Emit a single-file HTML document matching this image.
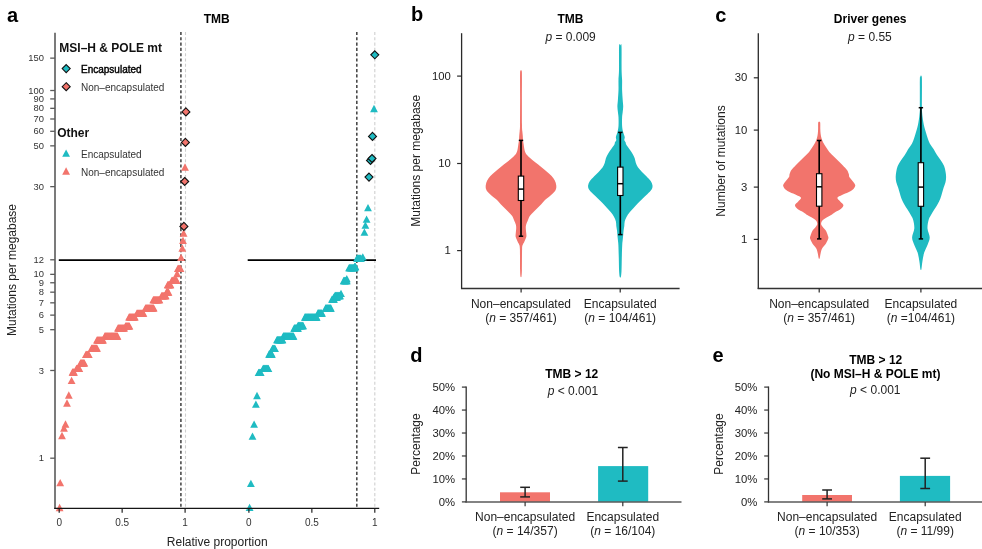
<!DOCTYPE html>
<html><head><meta charset="utf-8"><title>Figure</title>
<style>html,body{margin:0;padding:0;background:#fff;overflow:hidden}svg{display:block;will-change:transform}text{font-family:'Liberation Sans', Arial, Helvetica, sans-serif}</style>
</head><body>
<svg width="982" height="549" viewBox="0 0 982 549">
<rect width="982" height="549" fill="#fff"/>
<text x="7.00" y="21.50" font-size="20" text-anchor="start" font-weight="bold" fill="#000" >a</text>
<text x="411.00" y="21.10" font-size="20" text-anchor="start" font-weight="bold" fill="#000" >b</text>
<text x="715.30" y="21.60" font-size="20" text-anchor="start" font-weight="bold" fill="#000" >c</text>
<text x="410.30" y="361.50" font-size="20" text-anchor="start" font-weight="bold" fill="#000" >d</text>
<text x="712.50" y="361.50" font-size="20" text-anchor="start" font-weight="bold" fill="#000" >e</text>
<text x="216.70" y="22.80" font-size="12" text-anchor="middle" font-weight="bold" fill="#000" >TMB</text>
<line x1="180.90" y1="31.95" x2="180.90" y2="508.00" stroke="#4a4a4a" stroke-width="1.6" stroke-dasharray="3.1 2.2"/>
<line x1="185.50" y1="31.95" x2="185.50" y2="508.00" stroke="#cfcfcf" stroke-width="1.1" stroke-dasharray="3.1 2.2"/>
<line x1="356.80" y1="31.95" x2="356.80" y2="508.00" stroke="#4a4a4a" stroke-width="1.6" stroke-dasharray="3.1 2.2"/>
<line x1="374.80" y1="31.95" x2="374.80" y2="508.00" stroke="#cfcfcf" stroke-width="1.1" stroke-dasharray="3.1 2.2"/>
<line x1="58.80" y1="260.10" x2="185.40" y2="260.10" stroke="#000" stroke-width="1.7" />
<line x1="247.70" y1="260.10" x2="376.00" y2="260.10" stroke="#000" stroke-width="1.7" />
<line x1="55.00" y1="32.80" x2="55.00" y2="508.80" stroke="#5a5a5a" stroke-width="1.6" />
<line x1="50.20" y1="58.14" x2="55.00" y2="58.14" stroke="#5a5a5a" stroke-width="1.3" />
<text x="43.90" y="61.24" font-size="9.4" text-anchor="end" font-weight="normal" fill="#333" >150</text>
<line x1="50.20" y1="90.51" x2="55.00" y2="90.51" stroke="#5a5a5a" stroke-width="1.3" />
<text x="43.90" y="93.61" font-size="9.4" text-anchor="end" font-weight="normal" fill="#333" >100</text>
<line x1="50.20" y1="98.92" x2="55.00" y2="98.92" stroke="#5a5a5a" stroke-width="1.3" />
<text x="43.90" y="102.02" font-size="9.4" text-anchor="end" font-weight="normal" fill="#333" >90</text>
<line x1="50.20" y1="108.33" x2="55.00" y2="108.33" stroke="#5a5a5a" stroke-width="1.3" />
<text x="43.90" y="111.43" font-size="9.4" text-anchor="end" font-weight="normal" fill="#333" >80</text>
<line x1="50.20" y1="118.99" x2="55.00" y2="118.99" stroke="#5a5a5a" stroke-width="1.3" />
<text x="43.90" y="122.09" font-size="9.4" text-anchor="end" font-weight="normal" fill="#333" >70</text>
<line x1="50.20" y1="131.29" x2="55.00" y2="131.29" stroke="#5a5a5a" stroke-width="1.3" />
<text x="43.90" y="134.39" font-size="9.4" text-anchor="end" font-weight="normal" fill="#333" >60</text>
<line x1="50.20" y1="145.85" x2="55.00" y2="145.85" stroke="#5a5a5a" stroke-width="1.3" />
<text x="43.90" y="148.95" font-size="9.4" text-anchor="end" font-weight="normal" fill="#333" >50</text>
<line x1="50.20" y1="186.64" x2="55.00" y2="186.64" stroke="#5a5a5a" stroke-width="1.3" />
<text x="43.90" y="189.74" font-size="9.4" text-anchor="end" font-weight="normal" fill="#333" >30</text>
<line x1="50.20" y1="259.79" x2="55.00" y2="259.79" stroke="#5a5a5a" stroke-width="1.3" />
<text x="43.90" y="262.89" font-size="9.4" text-anchor="end" font-weight="normal" fill="#333" >12</text>
<line x1="50.20" y1="274.35" x2="55.00" y2="274.35" stroke="#5a5a5a" stroke-width="1.3" />
<text x="43.90" y="277.45" font-size="9.4" text-anchor="end" font-weight="normal" fill="#333" >10</text>
<line x1="50.20" y1="282.76" x2="55.00" y2="282.76" stroke="#5a5a5a" stroke-width="1.3" />
<text x="43.90" y="285.86" font-size="9.4" text-anchor="end" font-weight="normal" fill="#333" >9</text>
<line x1="50.20" y1="292.17" x2="55.00" y2="292.17" stroke="#5a5a5a" stroke-width="1.3" />
<text x="43.90" y="295.27" font-size="9.4" text-anchor="end" font-weight="normal" fill="#333" >8</text>
<line x1="50.20" y1="302.83" x2="55.00" y2="302.83" stroke="#5a5a5a" stroke-width="1.3" />
<text x="43.90" y="305.93" font-size="9.4" text-anchor="end" font-weight="normal" fill="#333" >7</text>
<line x1="50.20" y1="315.13" x2="55.00" y2="315.13" stroke="#5a5a5a" stroke-width="1.3" />
<text x="43.90" y="318.23" font-size="9.4" text-anchor="end" font-weight="normal" fill="#333" >6</text>
<line x1="50.20" y1="329.69" x2="55.00" y2="329.69" stroke="#5a5a5a" stroke-width="1.3" />
<text x="43.90" y="332.79" font-size="9.4" text-anchor="end" font-weight="normal" fill="#333" >5</text>
<line x1="50.20" y1="370.48" x2="55.00" y2="370.48" stroke="#5a5a5a" stroke-width="1.3" />
<text x="43.90" y="373.58" font-size="9.4" text-anchor="end" font-weight="normal" fill="#333" >3</text>
<line x1="50.20" y1="458.19" x2="55.00" y2="458.19" stroke="#5a5a5a" stroke-width="1.3" />
<text x="43.90" y="461.29" font-size="9.4" text-anchor="end" font-weight="normal" fill="#333" >1</text>
<text x="59.20" y="526.40" font-size="10" text-anchor="middle" font-weight="normal" fill="#333" >0</text>
<text x="122.15" y="526.40" font-size="10" text-anchor="middle" font-weight="normal" fill="#333" >0.5</text>
<text x="185.10" y="526.40" font-size="10" text-anchor="middle" font-weight="normal" fill="#333" >1</text>
<text x="248.90" y="526.40" font-size="10" text-anchor="middle" font-weight="normal" fill="#333" >0</text>
<text x="311.85" y="526.40" font-size="10" text-anchor="middle" font-weight="normal" fill="#333" >0.5</text>
<text x="374.80" y="526.40" font-size="10" text-anchor="middle" font-weight="normal" fill="#333" >1</text>
<text x="217.20" y="545.50" font-size="12" text-anchor="middle" font-weight="normal" fill="#222" >Relative proportion</text>
<text transform="translate(16.20,270.00) rotate(-90)" x="0" y="0" font-size="12" text-anchor="middle" fill="#222">Mutations per megabase</text>
<text x="59.30" y="51.50" font-size="12" text-anchor="start" font-weight="bold" fill="#111" >MSI–H &amp; POLE mt</text>
<path d="M66.20 64.60L70.20 68.60L66.20 72.60L62.20 68.60Z" fill="#1FBBC2" stroke="#111" stroke-width="1.1"/>
<text x="81.00" y="72.80" font-size="10" text-anchor="start" font-weight="normal" fill="#000" stroke="#000" stroke-width="0.4">Encapsulated</text>
<path d="M66.20 82.70L70.20 86.70L66.20 90.70L62.20 86.70Z" fill="#F2746C" stroke="#111" stroke-width="1.1"/>
<text x="81.00" y="91.10" font-size="10" text-anchor="start" font-weight="normal" fill="#333" >Non–encapsulated</text>
<text x="57.20" y="136.70" font-size="12" text-anchor="start" font-weight="bold" fill="#111" >Other</text>
<path d="M66.10 149.55L70.00 156.85L62.20 156.85Z" fill="#1FBBC2"/>
<text x="81.00" y="157.80" font-size="10" text-anchor="start" font-weight="normal" fill="#333" >Encapsulated</text>
<path d="M66.10 167.35L70.00 174.65L62.20 174.65Z" fill="#F2746C"/>
<text x="81.00" y="176.10" font-size="10" text-anchor="start" font-weight="normal" fill="#333" >Non–encapsulated</text>
<path d="M59.60 503.85L63.50 511.15L55.70 511.15Z" fill="#F2746C"/>
<path d="M60.20 478.95L64.10 486.25L56.30 486.25Z" fill="#F2746C"/>
<path d="M62.00 431.85L65.90 439.15L58.10 439.15Z" fill="#F2746C"/>
<path d="M64.00 424.35L67.90 431.65L60.10 431.65Z" fill="#F2746C"/>
<path d="M65.50 420.35L69.40 427.65L61.60 427.65Z" fill="#F2746C"/>
<path d="M67.00 399.35L70.90 406.65L63.10 406.65Z" fill="#F2746C"/>
<path d="M68.80 391.35L72.70 398.65L64.90 398.65Z" fill="#F2746C"/>
<path d="M71.60 376.75L75.50 384.05L67.70 384.05Z" fill="#F2746C"/>
<path d="M72.50 368.35L76.40 375.65L68.60 375.65Z" fill="#F2746C"/>
<path d="M73.00 368.35L76.90 375.65L69.10 375.65Z" fill="#F2746C"/>
<path d="M73.50 368.35L77.40 375.65L69.60 375.65Z" fill="#F2746C"/>
<path d="M74.00 368.35L77.90 375.65L70.10 375.65Z" fill="#F2746C"/>
<path d="M76.50 364.65L80.40 371.95L72.60 371.95Z" fill="#F2746C"/>
<path d="M76.97 364.65L80.87 371.95L73.07 371.95Z" fill="#F2746C"/>
<path d="M77.43 364.65L81.33 371.95L73.53 371.95Z" fill="#F2746C"/>
<path d="M77.90 364.65L81.80 371.95L74.00 371.95Z" fill="#F2746C"/>
<path d="M78.37 364.65L82.27 371.95L74.47 371.95Z" fill="#F2746C"/>
<path d="M78.83 364.65L82.73 371.95L74.93 371.95Z" fill="#F2746C"/>
<path d="M79.30 364.65L83.20 371.95L75.40 371.95Z" fill="#F2746C"/>
<path d="M80.50 359.15L84.40 366.45L76.60 366.45Z" fill="#F2746C"/>
<path d="M80.97 359.15L84.88 366.45L77.07 366.45Z" fill="#F2746C"/>
<path d="M81.45 359.15L85.35 366.45L77.55 366.45Z" fill="#F2746C"/>
<path d="M81.92 359.15L85.83 366.45L78.02 366.45Z" fill="#F2746C"/>
<path d="M82.40 359.15L86.30 366.45L78.50 366.45Z" fill="#F2746C"/>
<path d="M82.88 359.15L86.78 366.45L78.97 366.45Z" fill="#F2746C"/>
<path d="M83.35 359.15L87.25 366.45L79.45 366.45Z" fill="#F2746C"/>
<path d="M83.83 359.15L87.73 366.45L79.92 366.45Z" fill="#F2746C"/>
<path d="M84.30 359.15L88.20 366.45L80.40 366.45Z" fill="#F2746C"/>
<path d="M85.90 350.75L89.80 358.05L82.00 358.05Z" fill="#F2746C"/>
<path d="M86.38 350.75L90.28 358.05L82.48 358.05Z" fill="#F2746C"/>
<path d="M86.87 350.75L90.77 358.05L82.97 358.05Z" fill="#F2746C"/>
<path d="M87.35 350.75L91.25 358.05L83.45 358.05Z" fill="#F2746C"/>
<path d="M87.83 350.75L91.73 358.05L83.93 358.05Z" fill="#F2746C"/>
<path d="M88.32 350.75L92.22 358.05L84.42 358.05Z" fill="#F2746C"/>
<path d="M88.80 350.75L92.70 358.05L84.90 358.05Z" fill="#F2746C"/>
<path d="M91.60 344.55L95.50 351.85L87.70 351.85Z" fill="#F2746C"/>
<path d="M92.09 344.55L95.99 351.85L88.19 351.85Z" fill="#F2746C"/>
<path d="M92.58 344.55L96.48 351.85L88.68 351.85Z" fill="#F2746C"/>
<path d="M93.07 344.55L96.97 351.85L89.17 351.85Z" fill="#F2746C"/>
<path d="M93.56 344.55L97.46 351.85L89.66 351.85Z" fill="#F2746C"/>
<path d="M94.05 344.55L97.95 351.85L90.15 351.85Z" fill="#F2746C"/>
<path d="M94.55 344.55L98.45 351.85L90.65 351.85Z" fill="#F2746C"/>
<path d="M95.04 344.55L98.94 351.85L91.14 351.85Z" fill="#F2746C"/>
<path d="M95.53 344.55L99.43 351.85L91.63 351.85Z" fill="#F2746C"/>
<path d="M96.02 344.55L99.92 351.85L92.12 351.85Z" fill="#F2746C"/>
<path d="M96.51 344.55L100.41 351.85L92.61 351.85Z" fill="#F2746C"/>
<path d="M97.00 344.55L100.90 351.85L93.10 351.85Z" fill="#F2746C"/>
<path d="M97.00 336.15L100.90 343.45L93.10 343.45Z" fill="#F2746C"/>
<path d="M97.50 336.15L101.40 343.45L93.60 343.45Z" fill="#F2746C"/>
<path d="M98.00 336.15L101.90 343.45L94.10 343.45Z" fill="#F2746C"/>
<path d="M98.50 336.15L102.40 343.45L94.60 343.45Z" fill="#F2746C"/>
<path d="M99.00 336.15L102.90 343.45L95.10 343.45Z" fill="#F2746C"/>
<path d="M99.50 336.15L103.40 343.45L95.60 343.45Z" fill="#F2746C"/>
<path d="M100.00 336.15L103.90 343.45L96.10 343.45Z" fill="#F2746C"/>
<path d="M100.50 336.15L104.40 343.45L96.60 343.45Z" fill="#F2746C"/>
<path d="M101.00 336.15L104.90 343.45L97.10 343.45Z" fill="#F2746C"/>
<path d="M101.50 336.15L105.40 343.45L97.60 343.45Z" fill="#F2746C"/>
<path d="M102.00 336.15L105.90 343.45L98.10 343.45Z" fill="#F2746C"/>
<path d="M102.50 336.15L106.40 343.45L98.60 343.45Z" fill="#F2746C"/>
<path d="M103.00 336.15L106.90 343.45L99.10 343.45Z" fill="#F2746C"/>
<path d="M104.80 332.35L108.70 339.65L100.90 339.65Z" fill="#F2746C"/>
<path d="M105.31 332.35L109.21 339.65L101.41 339.65Z" fill="#F2746C"/>
<path d="M105.82 332.35L109.72 339.65L101.92 339.65Z" fill="#F2746C"/>
<path d="M106.32 332.35L110.22 339.65L102.42 339.65Z" fill="#F2746C"/>
<path d="M106.83 332.35L110.73 339.65L102.93 339.65Z" fill="#F2746C"/>
<path d="M107.34 332.35L111.24 339.65L103.44 339.65Z" fill="#F2746C"/>
<path d="M107.85 332.35L111.75 339.65L103.95 339.65Z" fill="#F2746C"/>
<path d="M108.36 332.35L112.26 339.65L104.46 339.65Z" fill="#F2746C"/>
<path d="M108.86 332.35L112.76 339.65L104.96 339.65Z" fill="#F2746C"/>
<path d="M109.37 332.35L113.27 339.65L105.47 339.65Z" fill="#F2746C"/>
<path d="M109.88 332.35L113.78 339.65L105.98 339.65Z" fill="#F2746C"/>
<path d="M110.39 332.35L114.29 339.65L106.49 339.65Z" fill="#F2746C"/>
<path d="M110.90 332.35L114.80 339.65L107.00 339.65Z" fill="#F2746C"/>
<path d="M111.40 332.35L115.30 339.65L107.50 339.65Z" fill="#F2746C"/>
<path d="M111.91 332.35L115.81 339.65L108.01 339.65Z" fill="#F2746C"/>
<path d="M112.42 332.35L116.32 339.65L108.52 339.65Z" fill="#F2746C"/>
<path d="M112.93 332.35L116.83 339.65L109.03 339.65Z" fill="#F2746C"/>
<path d="M113.44 332.35L117.34 339.65L109.54 339.65Z" fill="#F2746C"/>
<path d="M113.94 332.35L117.84 339.65L110.04 339.65Z" fill="#F2746C"/>
<path d="M114.45 332.35L118.35 339.65L110.55 339.65Z" fill="#F2746C"/>
<path d="M114.96 332.35L118.86 339.65L111.06 339.65Z" fill="#F2746C"/>
<path d="M115.47 332.35L119.37 339.65L111.57 339.65Z" fill="#F2746C"/>
<path d="M115.98 332.35L119.88 339.65L112.08 339.65Z" fill="#F2746C"/>
<path d="M116.48 332.35L120.38 339.65L112.58 339.65Z" fill="#F2746C"/>
<path d="M116.99 332.35L120.89 339.65L113.09 339.65Z" fill="#F2746C"/>
<path d="M117.50 332.35L121.40 339.65L113.60 339.65Z" fill="#F2746C"/>
<path d="M118.00 324.25L121.90 331.55L114.10 331.55Z" fill="#F2746C"/>
<path d="M118.51 324.25L122.41 331.55L114.61 331.55Z" fill="#F2746C"/>
<path d="M119.02 324.25L122.92 331.55L115.12 331.55Z" fill="#F2746C"/>
<path d="M119.53 324.25L123.43 331.55L115.62 331.55Z" fill="#F2746C"/>
<path d="M120.03 324.25L123.93 331.55L116.13 331.55Z" fill="#F2746C"/>
<path d="M120.54 324.25L124.44 331.55L116.64 331.55Z" fill="#F2746C"/>
<path d="M121.05 324.25L124.95 331.55L117.15 331.55Z" fill="#F2746C"/>
<path d="M121.56 324.25L125.46 331.55L117.66 331.55Z" fill="#F2746C"/>
<path d="M122.07 324.25L125.97 331.55L118.17 331.55Z" fill="#F2746C"/>
<path d="M122.57 324.25L126.47 331.55L118.67 331.55Z" fill="#F2746C"/>
<path d="M123.08 324.25L126.98 331.55L119.18 331.55Z" fill="#F2746C"/>
<path d="M123.59 324.25L127.49 331.55L119.69 331.55Z" fill="#F2746C"/>
<path d="M124.10 324.25L128.00 331.55L120.20 331.55Z" fill="#F2746C"/>
<path d="M125.50 322.15L129.40 329.45L121.60 329.45Z" fill="#F2746C"/>
<path d="M125.99 322.15L129.89 329.45L122.09 329.45Z" fill="#F2746C"/>
<path d="M126.47 322.15L130.38 329.45L122.57 329.45Z" fill="#F2746C"/>
<path d="M126.96 322.15L130.86 329.45L123.06 329.45Z" fill="#F2746C"/>
<path d="M127.45 322.15L131.35 329.45L123.55 329.45Z" fill="#F2746C"/>
<path d="M127.94 322.15L131.84 329.45L124.04 329.45Z" fill="#F2746C"/>
<path d="M128.43 322.15L132.33 329.45L124.53 329.45Z" fill="#F2746C"/>
<path d="M128.91 322.15L132.81 329.45L125.01 329.45Z" fill="#F2746C"/>
<path d="M129.40 322.15L133.30 329.45L125.50 329.45Z" fill="#F2746C"/>
<path d="M129.10 313.25L133.00 320.55L125.20 320.55Z" fill="#F2746C"/>
<path d="M129.62 313.25L133.52 320.55L125.72 320.55Z" fill="#F2746C"/>
<path d="M130.14 313.25L134.04 320.55L126.24 320.55Z" fill="#F2746C"/>
<path d="M130.65 313.25L134.55 320.55L126.75 320.55Z" fill="#F2746C"/>
<path d="M131.17 313.25L135.07 320.55L127.27 320.55Z" fill="#F2746C"/>
<path d="M131.69 313.25L135.59 320.55L127.79 320.55Z" fill="#F2746C"/>
<path d="M132.21 313.25L136.11 320.55L128.31 320.55Z" fill="#F2746C"/>
<path d="M132.73 313.25L136.63 320.55L128.83 320.55Z" fill="#F2746C"/>
<path d="M133.25 313.25L137.15 320.55L129.35 320.55Z" fill="#F2746C"/>
<path d="M133.76 313.25L137.66 320.55L129.86 320.55Z" fill="#F2746C"/>
<path d="M134.28 313.25L138.18 320.55L130.38 320.55Z" fill="#F2746C"/>
<path d="M134.80 313.25L138.70 320.55L130.90 320.55Z" fill="#F2746C"/>
<path d="M136.90 309.45L140.80 316.75L133.00 316.75Z" fill="#F2746C"/>
<path d="M137.40 309.45L141.30 316.75L133.50 316.75Z" fill="#F2746C"/>
<path d="M137.90 309.45L141.80 316.75L134.00 316.75Z" fill="#F2746C"/>
<path d="M138.40 309.45L142.30 316.75L134.50 316.75Z" fill="#F2746C"/>
<path d="M138.90 309.45L142.80 316.75L135.00 316.75Z" fill="#F2746C"/>
<path d="M139.40 309.45L143.30 316.75L135.50 316.75Z" fill="#F2746C"/>
<path d="M139.90 309.45L143.80 316.75L136.00 316.75Z" fill="#F2746C"/>
<path d="M140.40 309.45L144.30 316.75L136.50 316.75Z" fill="#F2746C"/>
<path d="M140.90 309.45L144.80 316.75L137.00 316.75Z" fill="#F2746C"/>
<path d="M141.40 309.45L145.30 316.75L137.50 316.75Z" fill="#F2746C"/>
<path d="M141.90 309.45L145.80 316.75L138.00 316.75Z" fill="#F2746C"/>
<path d="M142.40 309.45L146.30 316.75L138.50 316.75Z" fill="#F2746C"/>
<path d="M142.90 309.45L146.80 316.75L139.00 316.75Z" fill="#F2746C"/>
<path d="M143.40 309.45L147.30 316.75L139.50 316.75Z" fill="#F2746C"/>
<path d="M145.50 304.25L149.40 311.55L141.60 311.55Z" fill="#F2746C"/>
<path d="M146.01 304.25L149.91 311.55L142.11 311.55Z" fill="#F2746C"/>
<path d="M146.53 304.25L150.43 311.55L142.62 311.55Z" fill="#F2746C"/>
<path d="M147.04 304.25L150.94 311.55L143.14 311.55Z" fill="#F2746C"/>
<path d="M147.55 304.25L151.45 311.55L143.65 311.55Z" fill="#F2746C"/>
<path d="M148.06 304.25L151.96 311.55L144.16 311.55Z" fill="#F2746C"/>
<path d="M148.57 304.25L152.47 311.55L144.67 311.55Z" fill="#F2746C"/>
<path d="M149.09 304.25L152.99 311.55L145.19 311.55Z" fill="#F2746C"/>
<path d="M149.60 304.25L153.50 311.55L145.70 311.55Z" fill="#F2746C"/>
<path d="M150.11 304.25L154.01 311.55L146.21 311.55Z" fill="#F2746C"/>
<path d="M150.62 304.25L154.53 311.55L146.72 311.55Z" fill="#F2746C"/>
<path d="M151.14 304.25L155.04 311.55L147.24 311.55Z" fill="#F2746C"/>
<path d="M151.65 304.25L155.55 311.55L147.75 311.55Z" fill="#F2746C"/>
<path d="M152.16 304.25L156.06 311.55L148.26 311.55Z" fill="#F2746C"/>
<path d="M152.67 304.25L156.57 311.55L148.77 311.55Z" fill="#F2746C"/>
<path d="M153.19 304.25L157.09 311.55L149.29 311.55Z" fill="#F2746C"/>
<path d="M153.70 304.25L157.60 311.55L149.80 311.55Z" fill="#F2746C"/>
<path d="M153.30 296.05L157.20 303.35L149.40 303.35Z" fill="#F2746C"/>
<path d="M153.81 296.05L157.71 303.35L149.91 303.35Z" fill="#F2746C"/>
<path d="M154.32 296.05L158.22 303.35L150.42 303.35Z" fill="#F2746C"/>
<path d="M154.83 296.05L158.73 303.35L150.93 303.35Z" fill="#F2746C"/>
<path d="M155.33 296.05L159.23 303.35L151.43 303.35Z" fill="#F2746C"/>
<path d="M155.84 296.05L159.74 303.35L151.94 303.35Z" fill="#F2746C"/>
<path d="M156.35 296.05L160.25 303.35L152.45 303.35Z" fill="#F2746C"/>
<path d="M156.86 296.05L160.76 303.35L152.96 303.35Z" fill="#F2746C"/>
<path d="M157.37 296.05L161.27 303.35L153.47 303.35Z" fill="#F2746C"/>
<path d="M157.88 296.05L161.78 303.35L153.97 303.35Z" fill="#F2746C"/>
<path d="M158.38 296.05L162.28 303.35L154.48 303.35Z" fill="#F2746C"/>
<path d="M158.89 296.05L162.79 303.35L154.99 303.35Z" fill="#F2746C"/>
<path d="M159.40 296.05L163.30 303.35L155.50 303.35Z" fill="#F2746C"/>
<path d="M161.60 291.95L165.50 299.25L157.70 299.25Z" fill="#F2746C"/>
<path d="M162.11 291.95L166.01 299.25L158.21 299.25Z" fill="#F2746C"/>
<path d="M162.62 291.95L166.53 299.25L158.72 299.25Z" fill="#F2746C"/>
<path d="M163.14 291.95L167.04 299.25L159.24 299.25Z" fill="#F2746C"/>
<path d="M163.65 291.95L167.55 299.25L159.75 299.25Z" fill="#F2746C"/>
<path d="M164.16 291.95L168.06 299.25L160.26 299.25Z" fill="#F2746C"/>
<path d="M164.67 291.95L168.57 299.25L160.77 299.25Z" fill="#F2746C"/>
<path d="M165.19 291.95L169.09 299.25L161.29 299.25Z" fill="#F2746C"/>
<path d="M165.70 291.95L169.60 299.25L161.80 299.25Z" fill="#F2746C"/>
<path d="M166.50 288.35L170.40 295.65L162.60 295.65Z" fill="#F2746C"/>
<path d="M167.00 288.35L170.90 295.65L163.10 295.65Z" fill="#F2746C"/>
<path d="M167.50 288.35L171.40 295.65L163.60 295.65Z" fill="#F2746C"/>
<path d="M168.00 288.35L171.90 295.65L164.10 295.65Z" fill="#F2746C"/>
<path d="M168.50 288.35L172.40 295.65L164.60 295.65Z" fill="#F2746C"/>
<path d="M167.70 281.05L171.60 288.35L163.80 288.35Z" fill="#F2746C"/>
<path d="M168.17 281.05L172.07 288.35L164.27 288.35Z" fill="#F2746C"/>
<path d="M168.63 281.05L172.53 288.35L164.73 288.35Z" fill="#F2746C"/>
<path d="M169.10 281.05L173.00 288.35L165.20 288.35Z" fill="#F2746C"/>
<path d="M169.57 281.05L173.47 288.35L165.67 288.35Z" fill="#F2746C"/>
<path d="M170.03 281.05L173.93 288.35L166.13 288.35Z" fill="#F2746C"/>
<path d="M170.50 281.05L174.40 288.35L166.60 288.35Z" fill="#F2746C"/>
<path d="M171.80 276.75L175.70 284.05L167.90 284.05Z" fill="#F2746C"/>
<path d="M172.29 276.75L176.19 284.05L168.39 284.05Z" fill="#F2746C"/>
<path d="M172.78 276.75L176.68 284.05L168.88 284.05Z" fill="#F2746C"/>
<path d="M173.27 276.75L177.17 284.05L169.37 284.05Z" fill="#F2746C"/>
<path d="M173.76 276.75L177.66 284.05L169.86 284.05Z" fill="#F2746C"/>
<path d="M174.25 276.75L178.15 284.05L170.35 284.05Z" fill="#F2746C"/>
<path d="M174.74 276.75L178.64 284.05L170.84 284.05Z" fill="#F2746C"/>
<path d="M175.23 276.75L179.13 284.05L171.33 284.05Z" fill="#F2746C"/>
<path d="M175.72 276.75L179.62 284.05L171.82 284.05Z" fill="#F2746C"/>
<path d="M176.21 276.75L180.11 284.05L172.31 284.05Z" fill="#F2746C"/>
<path d="M176.70 276.75L180.60 284.05L172.80 284.05Z" fill="#F2746C"/>
<path d="M177.10 269.85L181.00 277.15L173.20 277.15Z" fill="#F2746C"/>
<path d="M177.90 264.65L181.80 271.95L174.00 271.95Z" fill="#F2746C"/>
<path d="M178.42 264.65L182.32 271.95L174.52 271.95Z" fill="#F2746C"/>
<path d="M178.94 264.65L182.84 271.95L175.04 271.95Z" fill="#F2746C"/>
<path d="M179.46 264.65L183.36 271.95L175.56 271.95Z" fill="#F2746C"/>
<path d="M179.98 264.65L183.88 271.95L176.08 271.95Z" fill="#F2746C"/>
<path d="M180.50 264.65L184.40 271.95L176.60 271.95Z" fill="#F2746C"/>
<path d="M181.10 253.75L185.00 261.05L177.20 261.05Z" fill="#F2746C"/>
<path d="M182.30 244.35L186.20 251.65L178.40 251.65Z" fill="#F2746C"/>
<path d="M183.00 236.65L186.90 243.95L179.10 243.95Z" fill="#F2746C"/>
<path d="M183.60 229.35L187.50 236.65L179.70 236.65Z" fill="#F2746C"/>
<path d="M185.00 163.35L188.90 170.65L181.10 170.65Z" fill="#F2746C"/>
<path d="M249.60 503.65L253.50 510.95L245.70 510.95Z" fill="#1FBBC2"/>
<path d="M250.90 479.75L254.80 487.05L247.00 487.05Z" fill="#1FBBC2"/>
<path d="M252.50 432.55L256.40 439.85L248.60 439.85Z" fill="#1FBBC2"/>
<path d="M254.10 420.55L258.00 427.85L250.20 427.85Z" fill="#1FBBC2"/>
<path d="M255.90 400.45L259.80 407.75L252.00 407.75Z" fill="#1FBBC2"/>
<path d="M257.00 391.85L260.90 399.15L253.10 399.15Z" fill="#1FBBC2"/>
<path d="M258.60 368.65L262.50 375.95L254.70 375.95Z" fill="#1FBBC2"/>
<path d="M259.12 368.65L263.02 375.95L255.22 375.95Z" fill="#1FBBC2"/>
<path d="M259.65 368.65L263.55 375.95L255.75 375.95Z" fill="#1FBBC2"/>
<path d="M260.18 368.65L264.07 375.95L256.28 375.95Z" fill="#1FBBC2"/>
<path d="M260.70 368.65L264.60 375.95L256.80 375.95Z" fill="#1FBBC2"/>
<path d="M263.10 364.65L267.00 371.95L259.20 371.95Z" fill="#1FBBC2"/>
<path d="M263.58 364.65L267.48 371.95L259.68 371.95Z" fill="#1FBBC2"/>
<path d="M264.06 364.65L267.96 371.95L260.16 371.95Z" fill="#1FBBC2"/>
<path d="M264.55 364.65L268.45 371.95L260.65 371.95Z" fill="#1FBBC2"/>
<path d="M265.03 364.65L268.93 371.95L261.13 371.95Z" fill="#1FBBC2"/>
<path d="M265.51 364.65L269.41 371.95L261.61 371.95Z" fill="#1FBBC2"/>
<path d="M265.99 364.65L269.89 371.95L262.09 371.95Z" fill="#1FBBC2"/>
<path d="M266.47 364.65L270.37 371.95L262.57 371.95Z" fill="#1FBBC2"/>
<path d="M266.95 364.65L270.85 371.95L263.05 371.95Z" fill="#1FBBC2"/>
<path d="M267.44 364.65L271.34 371.95L263.54 371.95Z" fill="#1FBBC2"/>
<path d="M267.92 364.65L271.82 371.95L264.02 371.95Z" fill="#1FBBC2"/>
<path d="M268.40 364.65L272.30 371.95L264.50 371.95Z" fill="#1FBBC2"/>
<path d="M269.10 350.35L273.00 357.65L265.20 357.65Z" fill="#1FBBC2"/>
<path d="M269.57 350.35L273.47 357.65L265.67 357.65Z" fill="#1FBBC2"/>
<path d="M270.03 350.35L273.93 357.65L266.13 357.65Z" fill="#1FBBC2"/>
<path d="M270.50 350.35L274.40 357.65L266.60 357.65Z" fill="#1FBBC2"/>
<path d="M270.97 350.35L274.87 357.65L267.07 357.65Z" fill="#1FBBC2"/>
<path d="M271.43 350.35L275.33 357.65L267.53 357.65Z" fill="#1FBBC2"/>
<path d="M271.90 350.35L275.80 357.65L268.00 357.65Z" fill="#1FBBC2"/>
<path d="M272.50 344.65L276.40 351.95L268.60 351.95Z" fill="#1FBBC2"/>
<path d="M273.00 344.65L276.90 351.95L269.10 351.95Z" fill="#1FBBC2"/>
<path d="M273.50 344.65L277.40 351.95L269.60 351.95Z" fill="#1FBBC2"/>
<path d="M274.00 344.65L277.90 351.95L270.10 351.95Z" fill="#1FBBC2"/>
<path d="M274.50 344.65L278.40 351.95L270.60 351.95Z" fill="#1FBBC2"/>
<path d="M275.00 344.65L278.90 351.95L271.10 351.95Z" fill="#1FBBC2"/>
<path d="M277.00 335.95L280.90 343.25L273.10 343.25Z" fill="#1FBBC2"/>
<path d="M277.50 335.95L281.40 343.25L273.60 343.25Z" fill="#1FBBC2"/>
<path d="M278.00 335.95L281.90 343.25L274.10 343.25Z" fill="#1FBBC2"/>
<path d="M278.50 335.95L282.40 343.25L274.60 343.25Z" fill="#1FBBC2"/>
<path d="M279.00 335.95L282.90 343.25L275.10 343.25Z" fill="#1FBBC2"/>
<path d="M279.50 335.95L283.40 343.25L275.60 343.25Z" fill="#1FBBC2"/>
<path d="M280.00 335.95L283.90 343.25L276.10 343.25Z" fill="#1FBBC2"/>
<path d="M280.50 335.95L284.40 343.25L276.60 343.25Z" fill="#1FBBC2"/>
<path d="M281.00 335.95L284.90 343.25L277.10 343.25Z" fill="#1FBBC2"/>
<path d="M281.50 335.95L285.40 343.25L277.60 343.25Z" fill="#1FBBC2"/>
<path d="M282.00 335.95L285.90 343.25L278.10 343.25Z" fill="#1FBBC2"/>
<path d="M282.50 335.95L286.40 343.25L278.60 343.25Z" fill="#1FBBC2"/>
<path d="M283.30 332.35L287.20 339.65L279.40 339.65Z" fill="#1FBBC2"/>
<path d="M283.81 332.35L287.71 339.65L279.91 339.65Z" fill="#1FBBC2"/>
<path d="M284.32 332.35L288.22 339.65L280.42 339.65Z" fill="#1FBBC2"/>
<path d="M284.83 332.35L288.73 339.65L280.93 339.65Z" fill="#1FBBC2"/>
<path d="M285.34 332.35L289.24 339.65L281.44 339.65Z" fill="#1FBBC2"/>
<path d="M285.85 332.35L289.75 339.65L281.95 339.65Z" fill="#1FBBC2"/>
<path d="M286.36 332.35L290.26 339.65L282.46 339.65Z" fill="#1FBBC2"/>
<path d="M286.87 332.35L290.77 339.65L282.97 339.65Z" fill="#1FBBC2"/>
<path d="M287.38 332.35L291.28 339.65L283.48 339.65Z" fill="#1FBBC2"/>
<path d="M287.89 332.35L291.79 339.65L283.99 339.65Z" fill="#1FBBC2"/>
<path d="M288.40 332.35L292.30 339.65L284.50 339.65Z" fill="#1FBBC2"/>
<path d="M288.91 332.35L292.81 339.65L285.01 339.65Z" fill="#1FBBC2"/>
<path d="M289.42 332.35L293.32 339.65L285.52 339.65Z" fill="#1FBBC2"/>
<path d="M289.93 332.35L293.83 339.65L286.03 339.65Z" fill="#1FBBC2"/>
<path d="M290.44 332.35L294.34 339.65L286.54 339.65Z" fill="#1FBBC2"/>
<path d="M290.95 332.35L294.85 339.65L287.05 339.65Z" fill="#1FBBC2"/>
<path d="M291.46 332.35L295.36 339.65L287.56 339.65Z" fill="#1FBBC2"/>
<path d="M291.97 332.35L295.87 339.65L288.07 339.65Z" fill="#1FBBC2"/>
<path d="M292.48 332.35L296.38 339.65L288.58 339.65Z" fill="#1FBBC2"/>
<path d="M292.99 332.35L296.89 339.65L289.09 339.65Z" fill="#1FBBC2"/>
<path d="M293.50 332.35L297.40 339.65L289.60 339.65Z" fill="#1FBBC2"/>
<path d="M294.20 324.35L298.10 331.65L290.30 331.65Z" fill="#1FBBC2"/>
<path d="M294.68 324.35L298.57 331.65L290.78 331.65Z" fill="#1FBBC2"/>
<path d="M295.15 324.35L299.05 331.65L291.25 331.65Z" fill="#1FBBC2"/>
<path d="M295.62 324.35L299.52 331.65L291.73 331.65Z" fill="#1FBBC2"/>
<path d="M296.10 324.35L300.00 331.65L292.20 331.65Z" fill="#1FBBC2"/>
<path d="M296.57 324.35L300.47 331.65L292.68 331.65Z" fill="#1FBBC2"/>
<path d="M297.05 324.35L300.95 331.65L293.15 331.65Z" fill="#1FBBC2"/>
<path d="M297.52 324.35L301.42 331.65L293.62 331.65Z" fill="#1FBBC2"/>
<path d="M298.00 324.35L301.90 331.65L294.10 331.65Z" fill="#1FBBC2"/>
<path d="M298.00 321.85L301.90 329.15L294.10 329.15Z" fill="#1FBBC2"/>
<path d="M298.51 321.85L302.41 329.15L294.61 329.15Z" fill="#1FBBC2"/>
<path d="M299.02 321.85L302.92 329.15L295.12 329.15Z" fill="#1FBBC2"/>
<path d="M299.53 321.85L303.43 329.15L295.63 329.15Z" fill="#1FBBC2"/>
<path d="M300.04 321.85L303.94 329.15L296.14 329.15Z" fill="#1FBBC2"/>
<path d="M300.55 321.85L304.45 329.15L296.65 329.15Z" fill="#1FBBC2"/>
<path d="M301.06 321.85L304.96 329.15L297.16 329.15Z" fill="#1FBBC2"/>
<path d="M301.57 321.85L305.47 329.15L297.67 329.15Z" fill="#1FBBC2"/>
<path d="M302.08 321.85L305.98 329.15L298.18 329.15Z" fill="#1FBBC2"/>
<path d="M302.59 321.85L306.49 329.15L298.69 329.15Z" fill="#1FBBC2"/>
<path d="M303.10 321.85L307.00 329.15L299.20 329.15Z" fill="#1FBBC2"/>
<path d="M304.90 313.35L308.80 320.65L301.00 320.65Z" fill="#1FBBC2"/>
<path d="M305.39 313.35L309.29 320.65L301.49 320.65Z" fill="#1FBBC2"/>
<path d="M305.88 313.35L309.78 320.65L301.98 320.65Z" fill="#1FBBC2"/>
<path d="M306.38 313.35L310.27 320.65L302.48 320.65Z" fill="#1FBBC2"/>
<path d="M306.87 313.35L310.77 320.65L302.97 320.65Z" fill="#1FBBC2"/>
<path d="M307.36 313.35L311.26 320.65L303.46 320.65Z" fill="#1FBBC2"/>
<path d="M307.85 313.35L311.75 320.65L303.95 320.65Z" fill="#1FBBC2"/>
<path d="M308.34 313.35L312.24 320.65L304.44 320.65Z" fill="#1FBBC2"/>
<path d="M308.83 313.35L312.73 320.65L304.93 320.65Z" fill="#1FBBC2"/>
<path d="M309.32 313.35L313.22 320.65L305.43 320.65Z" fill="#1FBBC2"/>
<path d="M309.82 313.35L313.72 320.65L305.92 320.65Z" fill="#1FBBC2"/>
<path d="M310.31 313.35L314.21 320.65L306.41 320.65Z" fill="#1FBBC2"/>
<path d="M310.80 313.35L314.70 320.65L306.90 320.65Z" fill="#1FBBC2"/>
<path d="M311.29 313.35L315.19 320.65L307.39 320.65Z" fill="#1FBBC2"/>
<path d="M311.78 313.35L315.68 320.65L307.88 320.65Z" fill="#1FBBC2"/>
<path d="M312.27 313.35L316.17 320.65L308.38 320.65Z" fill="#1FBBC2"/>
<path d="M312.77 313.35L316.67 320.65L308.87 320.65Z" fill="#1FBBC2"/>
<path d="M313.26 313.35L317.16 320.65L309.36 320.65Z" fill="#1FBBC2"/>
<path d="M313.75 313.35L317.65 320.65L309.85 320.65Z" fill="#1FBBC2"/>
<path d="M314.24 313.35L318.14 320.65L310.34 320.65Z" fill="#1FBBC2"/>
<path d="M314.73 313.35L318.63 320.65L310.83 320.65Z" fill="#1FBBC2"/>
<path d="M315.22 313.35L319.12 320.65L311.32 320.65Z" fill="#1FBBC2"/>
<path d="M315.72 313.35L319.62 320.65L311.82 320.65Z" fill="#1FBBC2"/>
<path d="M316.21 313.35L320.11 320.65L312.31 320.65Z" fill="#1FBBC2"/>
<path d="M316.70 313.35L320.60 320.65L312.80 320.65Z" fill="#1FBBC2"/>
<path d="M317.90 309.35L321.80 316.65L314.00 316.65Z" fill="#1FBBC2"/>
<path d="M318.41 309.35L322.31 316.65L314.51 316.65Z" fill="#1FBBC2"/>
<path d="M318.92 309.35L322.82 316.65L315.02 316.65Z" fill="#1FBBC2"/>
<path d="M319.44 309.35L323.34 316.65L315.54 316.65Z" fill="#1FBBC2"/>
<path d="M319.95 309.35L323.85 316.65L316.05 316.65Z" fill="#1FBBC2"/>
<path d="M320.46 309.35L324.36 316.65L316.56 316.65Z" fill="#1FBBC2"/>
<path d="M320.98 309.35L324.88 316.65L317.08 316.65Z" fill="#1FBBC2"/>
<path d="M321.49 309.35L325.39 316.65L317.59 316.65Z" fill="#1FBBC2"/>
<path d="M322.00 309.35L325.90 316.65L318.10 316.65Z" fill="#1FBBC2"/>
<path d="M325.60 304.35L329.50 311.65L321.70 311.65Z" fill="#1FBBC2"/>
<path d="M326.08 304.35L329.98 311.65L322.18 311.65Z" fill="#1FBBC2"/>
<path d="M326.56 304.35L330.46 311.65L322.66 311.65Z" fill="#1FBBC2"/>
<path d="M327.05 304.35L330.95 311.65L323.15 311.65Z" fill="#1FBBC2"/>
<path d="M327.53 304.35L331.43 311.65L323.63 311.65Z" fill="#1FBBC2"/>
<path d="M328.01 304.35L331.91 311.65L324.11 311.65Z" fill="#1FBBC2"/>
<path d="M328.49 304.35L332.39 311.65L324.59 311.65Z" fill="#1FBBC2"/>
<path d="M328.97 304.35L332.87 311.65L325.07 311.65Z" fill="#1FBBC2"/>
<path d="M329.45 304.35L333.35 311.65L325.55 311.65Z" fill="#1FBBC2"/>
<path d="M329.94 304.35L333.84 311.65L326.04 311.65Z" fill="#1FBBC2"/>
<path d="M330.42 304.35L334.32 311.65L326.52 311.65Z" fill="#1FBBC2"/>
<path d="M330.90 304.35L334.80 311.65L327.00 311.65Z" fill="#1FBBC2"/>
<path d="M332.00 295.55L335.90 302.85L328.10 302.85Z" fill="#1FBBC2"/>
<path d="M332.50 295.55L336.40 302.85L328.60 302.85Z" fill="#1FBBC2"/>
<path d="M333.00 295.55L336.90 302.85L329.10 302.85Z" fill="#1FBBC2"/>
<path d="M333.50 295.55L337.40 302.85L329.60 302.85Z" fill="#1FBBC2"/>
<path d="M334.00 295.55L337.90 302.85L330.10 302.85Z" fill="#1FBBC2"/>
<path d="M334.00 293.35L337.90 300.65L330.10 300.65Z" fill="#1FBBC2"/>
<path d="M334.50 293.35L338.40 300.65L330.60 300.65Z" fill="#1FBBC2"/>
<path d="M335.00 293.35L338.90 300.65L331.10 300.65Z" fill="#1FBBC2"/>
<path d="M335.50 293.35L339.40 300.65L331.60 300.65Z" fill="#1FBBC2"/>
<path d="M336.00 293.35L339.90 300.65L332.10 300.65Z" fill="#1FBBC2"/>
<path d="M336.50 293.35L340.40 300.65L332.60 300.65Z" fill="#1FBBC2"/>
<path d="M337.00 293.35L340.90 300.65L333.10 300.65Z" fill="#1FBBC2"/>
<path d="M335.00 291.85L338.90 299.15L331.10 299.15Z" fill="#1FBBC2"/>
<path d="M335.50 291.85L339.40 299.15L331.60 299.15Z" fill="#1FBBC2"/>
<path d="M336.00 291.85L339.90 299.15L332.10 299.15Z" fill="#1FBBC2"/>
<path d="M336.50 291.85L340.40 299.15L332.60 299.15Z" fill="#1FBBC2"/>
<path d="M337.00 291.85L340.90 299.15L333.10 299.15Z" fill="#1FBBC2"/>
<path d="M337.50 291.85L341.40 299.15L333.60 299.15Z" fill="#1FBBC2"/>
<path d="M338.00 291.85L341.90 299.15L334.10 299.15Z" fill="#1FBBC2"/>
<path d="M338.50 291.85L342.40 299.15L334.60 299.15Z" fill="#1FBBC2"/>
<path d="M339.00 291.85L342.90 299.15L335.10 299.15Z" fill="#1FBBC2"/>
<path d="M339.50 291.85L343.40 299.15L335.60 299.15Z" fill="#1FBBC2"/>
<path d="M340.00 291.85L343.90 299.15L336.10 299.15Z" fill="#1FBBC2"/>
<path d="M341.00 289.65L344.90 296.95L337.10 296.95Z" fill="#1FBBC2"/>
<path d="M343.70 276.85L347.60 284.15L339.80 284.15Z" fill="#1FBBC2"/>
<path d="M344.22 276.85L348.12 284.15L340.32 284.15Z" fill="#1FBBC2"/>
<path d="M344.73 276.85L348.63 284.15L340.83 284.15Z" fill="#1FBBC2"/>
<path d="M345.25 276.85L349.15 284.15L341.35 284.15Z" fill="#1FBBC2"/>
<path d="M345.77 276.85L349.67 284.15L341.87 284.15Z" fill="#1FBBC2"/>
<path d="M346.28 276.85L350.18 284.15L342.38 284.15Z" fill="#1FBBC2"/>
<path d="M346.80 276.85L350.70 284.15L342.90 284.15Z" fill="#1FBBC2"/>
<path d="M346.80 275.05L350.70 282.35L342.90 282.35Z" fill="#1FBBC2"/>
<path d="M349.10 264.05L353.00 271.35L345.20 271.35Z" fill="#1FBBC2"/>
<path d="M349.60 264.05L353.50 271.35L345.70 271.35Z" fill="#1FBBC2"/>
<path d="M350.10 264.05L354.00 271.35L346.20 271.35Z" fill="#1FBBC2"/>
<path d="M350.60 264.05L354.50 271.35L346.70 271.35Z" fill="#1FBBC2"/>
<path d="M351.10 264.05L355.00 271.35L347.20 271.35Z" fill="#1FBBC2"/>
<path d="M351.60 264.05L355.50 271.35L347.70 271.35Z" fill="#1FBBC2"/>
<path d="M352.10 264.05L356.00 271.35L348.20 271.35Z" fill="#1FBBC2"/>
<path d="M352.60 264.05L356.50 271.35L348.70 271.35Z" fill="#1FBBC2"/>
<path d="M353.10 264.05L357.00 271.35L349.20 271.35Z" fill="#1FBBC2"/>
<path d="M353.60 264.05L357.50 271.35L349.70 271.35Z" fill="#1FBBC2"/>
<path d="M354.10 264.05L358.00 271.35L350.20 271.35Z" fill="#1FBBC2"/>
<path d="M354.60 264.05L358.50 271.35L350.70 271.35Z" fill="#1FBBC2"/>
<path d="M354.60 262.85L358.50 270.15L350.70 270.15Z" fill="#1FBBC2"/>
<path d="M355.05 262.85L358.95 270.15L351.15 270.15Z" fill="#1FBBC2"/>
<path d="M355.50 262.85L359.40 270.15L351.60 270.15Z" fill="#1FBBC2"/>
<path d="M357.00 254.55L360.90 261.85L353.10 261.85Z" fill="#1FBBC2"/>
<path d="M357.50 254.55L361.40 261.85L353.60 261.85Z" fill="#1FBBC2"/>
<path d="M358.00 254.55L361.90 261.85L354.10 261.85Z" fill="#1FBBC2"/>
<path d="M358.50 254.55L362.40 261.85L354.60 261.85Z" fill="#1FBBC2"/>
<path d="M359.00 254.55L362.90 261.85L355.10 261.85Z" fill="#1FBBC2"/>
<path d="M359.50 254.55L363.40 261.85L355.60 261.85Z" fill="#1FBBC2"/>
<path d="M360.00 254.55L363.90 261.85L356.10 261.85Z" fill="#1FBBC2"/>
<path d="M360.50 254.55L364.40 261.85L356.60 261.85Z" fill="#1FBBC2"/>
<path d="M361.00 254.55L364.90 261.85L357.10 261.85Z" fill="#1FBBC2"/>
<path d="M362.80 253.25L366.70 260.55L358.90 260.55Z" fill="#1FBBC2"/>
<path d="M364.40 228.55L368.30 235.85L360.50 235.85Z" fill="#1FBBC2"/>
<path d="M365.40 221.55L369.30 228.85L361.50 228.85Z" fill="#1FBBC2"/>
<path d="M366.60 215.55L370.50 222.85L362.70 222.85Z" fill="#1FBBC2"/>
<path d="M368.00 203.95L371.90 211.25L364.10 211.25Z" fill="#1FBBC2"/>
<path d="M374.00 104.85L377.90 112.15L370.10 112.15Z" fill="#1FBBC2"/>
<line x1="54.20" y1="508.40" x2="379.20" y2="508.40" stroke="#151515" stroke-width="1.4" />
<line x1="59.20" y1="508.40" x2="59.20" y2="512.80" stroke="#222" stroke-width="1.2" />
<line x1="122.15" y1="508.40" x2="122.15" y2="512.80" stroke="#222" stroke-width="1.2" />
<line x1="185.10" y1="508.40" x2="185.10" y2="512.80" stroke="#222" stroke-width="1.2" />
<line x1="248.90" y1="508.40" x2="248.90" y2="512.80" stroke="#222" stroke-width="1.2" />
<line x1="311.85" y1="508.40" x2="311.85" y2="512.80" stroke="#222" stroke-width="1.2" />
<line x1="374.80" y1="508.40" x2="374.80" y2="512.80" stroke="#222" stroke-width="1.2" />
<path d="M183.90 222.40L187.90 226.40L183.90 230.40L179.90 226.40Z" fill="#F2746C" stroke="#111" stroke-width="1.1"/>
<path d="M184.70 177.50L188.70 181.50L184.70 185.50L180.70 181.50Z" fill="#F2746C" stroke="#111" stroke-width="1.1"/>
<path d="M185.40 138.40L189.40 142.40L185.40 146.40L181.40 142.40Z" fill="#F2746C" stroke="#111" stroke-width="1.1"/>
<path d="M185.90 107.90L189.90 111.90L185.90 115.90L181.90 111.90Z" fill="#F2746C" stroke="#111" stroke-width="1.1"/>
<path d="M369.00 173.10L373.00 177.10L369.00 181.10L365.00 177.10Z" fill="#1FBBC2" stroke="#111" stroke-width="1.1"/>
<path d="M370.50 156.50L374.50 160.50L370.50 164.50L366.50 160.50Z" fill="#1FBBC2" stroke="#111" stroke-width="1.1"/>
<path d="M372.00 154.50L376.00 158.50L372.00 162.50L368.00 158.50Z" fill="#1FBBC2" stroke="#111" stroke-width="1.1"/>
<path d="M372.50 132.40L376.50 136.40L372.50 140.40L368.50 136.40Z" fill="#1FBBC2" stroke="#111" stroke-width="1.1"/>
<path d="M374.80 50.80L378.80 54.80L374.80 58.80L370.80 54.80Z" fill="#1FBBC2" stroke="#111" stroke-width="1.1"/>
<text x="570.40" y="22.80" font-size="12" text-anchor="middle" font-weight="bold" fill="#000" >TMB</text>
<text x="570.60" y="41.10" font-size="12" text-anchor="middle" font-weight="normal" fill="#222" ><tspan font-style="italic">p</tspan> = 0.009</text>
<path d="M521.00 71.50C521.15 71.62 521.75 67.45 521.90 72.20C522.05 76.95 521.88 91.20 521.90 100.00C521.92 108.80 521.93 119.83 522.00 125.00C522.07 130.17 522.17 129.17 522.30 131.00C522.43 132.83 522.68 134.50 522.80 136.00C522.92 137.50 522.87 138.65 523.00 140.00C523.13 141.35 523.38 142.65 523.60 144.10C523.82 145.55 523.95 147.18 524.30 148.70C524.65 150.22 524.78 151.68 525.70 153.20C526.62 154.72 528.22 156.28 529.80 157.80C531.38 159.32 533.30 160.78 535.20 162.30C537.10 163.82 539.30 165.38 541.20 166.90C543.10 168.42 544.87 169.88 546.60 171.40C548.33 172.92 550.23 174.48 551.60 176.00C552.97 177.52 554.03 179.00 554.80 180.50C555.57 182.00 556.00 183.58 556.20 185.00C556.40 186.42 556.37 187.78 556.00 189.00C555.63 190.22 555.00 191.13 554.00 192.30C553.00 193.47 551.50 194.72 550.00 196.00C548.50 197.28 546.42 198.67 545.00 200.00C543.58 201.33 542.75 202.67 541.50 204.00C540.25 205.33 538.83 206.67 537.50 208.00C536.17 209.33 534.78 210.67 533.50 212.00C532.22 213.33 530.72 214.67 529.80 216.00C528.88 217.33 528.60 218.57 528.00 220.00C527.40 221.43 526.57 223.27 526.20 224.60C525.83 225.93 525.80 226.63 525.80 228.00C525.80 229.37 526.10 231.38 526.20 232.80C526.30 234.22 526.52 235.47 526.40 236.50C526.28 237.53 525.87 238.08 525.50 239.00C525.13 239.92 524.63 241.07 524.20 242.00C523.77 242.93 523.25 243.43 522.90 244.60C522.55 245.77 522.27 244.77 522.10 249.00C521.93 253.23 522.00 265.42 521.90 270.00C521.80 274.58 521.65 275.33 521.50 276.50C521.35 277.67 521.08 276.92 521.00 277.00L521.00 277.00C520.92 276.92 520.65 277.67 520.50 276.50C520.35 275.33 520.20 274.58 520.10 270.00C520.00 265.42 520.07 253.23 519.90 249.00C519.73 244.77 519.45 245.77 519.10 244.60C518.75 243.43 518.23 242.93 517.80 242.00C517.37 241.07 516.87 239.92 516.50 239.00C516.13 238.08 515.72 237.53 515.60 236.50C515.48 235.47 515.70 234.22 515.80 232.80C515.90 231.38 516.20 229.37 516.20 228.00C516.20 226.63 516.17 225.93 515.80 224.60C515.43 223.27 514.60 221.43 514.00 220.00C513.40 218.57 513.12 217.33 512.20 216.00C511.28 214.67 509.78 213.33 508.50 212.00C507.22 210.67 505.83 209.33 504.50 208.00C503.17 206.67 501.75 205.33 500.50 204.00C499.25 202.67 498.42 201.33 497.00 200.00C495.58 198.67 493.50 197.28 492.00 196.00C490.50 194.72 489.00 193.47 488.00 192.30C487.00 191.13 486.37 190.22 486.00 189.00C485.63 187.78 485.60 186.42 485.80 185.00C486.00 183.58 486.43 182.00 487.20 180.50C487.97 179.00 489.03 177.52 490.40 176.00C491.77 174.48 493.67 172.92 495.40 171.40C497.13 169.88 498.90 168.42 500.80 166.90C502.70 165.38 504.90 163.82 506.80 162.30C508.70 160.78 510.62 159.32 512.20 157.80C513.78 156.28 515.38 154.72 516.30 153.20C517.22 151.68 517.35 150.22 517.70 148.70C518.05 147.18 518.18 145.55 518.40 144.10C518.62 142.65 518.87 141.35 519.00 140.00C519.13 138.65 519.08 137.50 519.20 136.00C519.32 134.50 519.57 132.83 519.70 131.00C519.83 129.17 519.93 130.17 520.00 125.00C520.07 119.83 520.08 108.80 520.10 100.00C520.12 91.20 519.95 76.95 520.10 72.20C520.25 67.45 520.85 71.62 521.00 71.50Z" fill="#F2746C"/>
<path d="M620.30 45.30C620.50 45.40 621.28 41.78 621.50 45.90C621.72 50.02 621.50 64.32 621.60 70.00C621.70 75.68 622.02 76.67 622.10 80.00C622.18 83.33 622.00 86.67 622.10 90.00C622.20 93.33 622.52 97.27 622.70 100.00C622.88 102.73 623.20 104.40 623.20 106.40C623.20 108.40 622.88 110.18 622.70 112.00C622.52 113.82 622.20 114.97 622.10 117.30C622.00 119.63 621.95 123.63 622.10 126.00C622.25 128.37 622.57 129.67 623.00 131.50C623.43 133.33 624.48 135.58 624.70 137.00C624.92 138.42 624.13 139.08 624.30 140.00C624.47 140.92 625.38 141.73 625.70 142.50C626.02 143.27 625.60 143.50 626.20 144.60C626.80 145.70 628.25 147.58 629.30 149.10C630.35 150.62 631.60 152.18 632.50 153.70C633.40 155.22 634.15 156.68 634.70 158.20C635.25 159.72 635.27 161.28 635.80 162.80C636.33 164.32 636.87 165.78 637.90 167.30C638.93 168.82 640.55 170.38 642.00 171.90C643.45 173.42 645.15 174.88 646.60 176.40C648.05 177.92 649.72 179.48 650.70 181.00C651.68 182.52 652.35 184.07 652.50 185.50C652.65 186.93 652.43 188.17 651.60 189.60C650.77 191.03 649.02 192.58 647.50 194.10C645.98 195.62 644.10 197.18 642.50 198.70C640.90 200.22 639.35 201.68 637.90 203.20C636.45 204.72 635.17 206.28 633.80 207.80C632.43 209.32 630.92 210.78 629.70 212.30C628.48 213.82 627.33 215.38 626.50 216.90C625.67 218.42 625.07 219.88 624.70 221.40C624.33 222.92 624.48 224.48 624.30 226.00C624.12 227.52 623.78 229.00 623.60 230.50C623.42 232.00 623.35 233.42 623.20 235.00C623.05 236.58 622.87 238.25 622.70 240.00C622.53 241.75 622.35 242.50 622.20 245.50C622.05 248.50 621.92 253.75 621.80 258.00C621.68 262.25 621.65 267.87 621.50 271.00C621.35 274.13 621.10 275.73 620.90 276.80C620.70 277.87 620.40 277.30 620.30 277.40L620.30 277.40C620.20 277.30 619.90 277.87 619.70 276.80C619.50 275.73 619.25 274.13 619.10 271.00C618.95 267.87 618.92 262.25 618.80 258.00C618.68 253.75 618.55 248.50 618.40 245.50C618.25 242.50 618.07 241.75 617.90 240.00C617.73 238.25 617.55 236.58 617.40 235.00C617.25 233.42 617.18 232.00 617.00 230.50C616.82 229.00 616.48 227.52 616.30 226.00C616.12 224.48 616.27 222.92 615.90 221.40C615.53 219.88 614.93 218.42 614.10 216.90C613.27 215.38 612.12 213.82 610.90 212.30C609.68 210.78 608.17 209.32 606.80 207.80C605.43 206.28 604.15 204.72 602.70 203.20C601.25 201.68 599.70 200.22 598.10 198.70C596.50 197.18 594.62 195.62 593.10 194.10C591.58 192.58 589.83 191.03 589.00 189.60C588.17 188.17 587.95 186.93 588.10 185.50C588.25 184.07 588.92 182.52 589.90 181.00C590.88 179.48 592.55 177.92 594.00 176.40C595.45 174.88 597.15 173.42 598.60 171.90C600.05 170.38 601.67 168.82 602.70 167.30C603.73 165.78 604.27 164.32 604.80 162.80C605.33 161.28 605.35 159.72 605.90 158.20C606.45 156.68 607.20 155.22 608.10 153.70C609.00 152.18 610.25 150.62 611.30 149.10C612.35 147.58 613.80 145.70 614.40 144.60C615.00 143.50 614.58 143.27 614.90 142.50C615.22 141.73 616.13 140.92 616.30 140.00C616.47 139.08 615.68 138.42 615.90 137.00C616.12 135.58 617.17 133.33 617.60 131.50C618.03 129.67 618.35 128.37 618.50 126.00C618.65 123.63 618.60 119.63 618.50 117.30C618.40 114.97 618.08 113.82 617.90 112.00C617.72 110.18 617.40 108.40 617.40 106.40C617.40 104.40 617.72 102.73 617.90 100.00C618.08 97.27 618.40 93.33 618.50 90.00C618.60 86.67 618.42 83.33 618.50 80.00C618.58 76.67 618.90 75.68 619.00 70.00C619.10 64.32 618.88 50.02 619.10 45.90C619.32 41.78 620.10 45.40 620.30 45.30Z" fill="#1FBBC2"/>
<line x1="521.00" y1="140.40" x2="521.00" y2="236.20" stroke="#000" stroke-width="1.65" />
<line x1="518.80" y1="140.40" x2="523.20" y2="140.40" stroke="#000" stroke-width="1.5" />
<line x1="518.80" y1="236.20" x2="523.20" y2="236.20" stroke="#000" stroke-width="1.5" />
<rect x="518.30" y="176.10" width="5.40" height="24.40" fill="#fff" stroke="#000" stroke-width="1.1"/>
<line x1="518.30" y1="189.10" x2="523.70" y2="189.10" stroke="#000" stroke-width="1.5" />
<line x1="620.30" y1="132.40" x2="620.30" y2="234.60" stroke="#000" stroke-width="1.65" />
<line x1="618.10" y1="132.40" x2="622.50" y2="132.40" stroke="#000" stroke-width="1.5" />
<line x1="618.10" y1="234.60" x2="622.50" y2="234.60" stroke="#000" stroke-width="1.5" />
<rect x="617.60" y="167.10" width="5.40" height="28.40" fill="#fff" stroke="#000" stroke-width="1.1"/>
<line x1="617.60" y1="183.70" x2="623.00" y2="183.70" stroke="#000" stroke-width="1.5" />
<line x1="461.60" y1="33.20" x2="461.60" y2="289.00" stroke="#2a2a2a" stroke-width="1.3" />
<line x1="461.00" y1="288.45" x2="679.60" y2="288.45" stroke="#333" stroke-width="1.4" />
<line x1="457.10" y1="76.10" x2="461.60" y2="76.10" stroke="#2a2a2a" stroke-width="1.2" />
<text x="450.80" y="79.50" font-size="11.3" text-anchor="end" font-weight="normal" fill="#222" >100</text>
<line x1="457.10" y1="163.50" x2="461.60" y2="163.50" stroke="#2a2a2a" stroke-width="1.2" />
<text x="450.80" y="166.90" font-size="11.3" text-anchor="end" font-weight="normal" fill="#222" >10</text>
<line x1="457.10" y1="250.60" x2="461.60" y2="250.60" stroke="#2a2a2a" stroke-width="1.2" />
<text x="450.80" y="254.00" font-size="11.3" text-anchor="end" font-weight="normal" fill="#222" >1</text>
<line x1="521.10" y1="288.30" x2="521.10" y2="292.60" stroke="#2a2a2a" stroke-width="1.2" />
<line x1="620.20" y1="288.30" x2="620.20" y2="292.60" stroke="#2a2a2a" stroke-width="1.2" />
<text transform="translate(420.10,160.75) rotate(-90)" x="0" y="0" font-size="12" text-anchor="middle" fill="#222">Mutations per megabase</text>
<text x="521.00" y="307.90" font-size="12" text-anchor="middle" font-weight="normal" fill="#222" >Non–encapsulated</text>
<text x="521.00" y="321.60" font-size="12" text-anchor="middle" font-weight="normal" fill="#222" >(<tspan font-style="italic">n</tspan> = 357/461)</text>
<text x="620.20" y="307.90" font-size="12" text-anchor="middle" font-weight="normal" fill="#222" >Encapsulated</text>
<text x="620.20" y="321.60" font-size="12" text-anchor="middle" font-weight="normal" fill="#222" >(<tspan font-style="italic">n</tspan> = 104/461)</text>
<text x="870.20" y="22.80" font-size="12" text-anchor="middle" font-weight="bold" fill="#000" >Driver genes</text>
<text x="869.90" y="40.80" font-size="12" text-anchor="middle" font-weight="normal" fill="#222" ><tspan font-style="italic">p</tspan> = 0.55</text>
<path d="M819.20 121.60C819.37 121.75 820.02 121.27 820.20 122.50C820.38 123.73 820.23 127.13 820.30 129.00C820.37 130.87 820.40 132.17 820.60 133.70C820.80 135.23 821.05 136.68 821.50 138.20C821.95 139.72 822.53 141.28 823.30 142.80C824.07 144.32 825.10 145.78 826.10 147.30C827.10 148.82 828.02 150.38 829.30 151.90C830.58 153.42 832.28 154.88 833.80 156.40C835.32 157.92 836.88 159.48 838.40 161.00C839.92 162.52 841.47 164.00 842.90 165.50C844.33 167.00 846.02 168.57 847.00 170.00C847.98 171.43 848.43 172.97 848.80 174.10C849.17 175.23 848.88 176.03 849.20 176.80C849.52 177.57 849.85 177.63 850.70 178.70C851.55 179.77 853.55 181.98 854.30 183.20C855.05 184.42 855.43 184.93 855.20 186.00C854.97 187.07 854.03 188.55 852.90 189.60C851.77 190.65 850.22 191.40 848.40 192.30C846.58 193.20 843.83 194.08 842.00 195.00C840.17 195.92 837.70 196.73 837.40 197.80C837.10 198.87 839.20 200.18 840.20 201.40C841.20 202.62 843.25 203.88 843.40 205.10C843.55 206.32 842.55 207.48 841.10 208.70C839.65 209.92 836.37 211.35 834.70 212.40C833.03 213.45 832.58 214.08 831.10 215.00C829.62 215.92 827.25 216.98 825.80 217.90C824.35 218.82 823.18 219.53 822.40 220.50C821.62 221.47 821.10 222.70 821.10 223.70C821.10 224.70 821.62 225.35 822.40 226.50C823.18 227.65 824.88 229.07 825.80 230.60C826.72 232.13 827.48 234.37 827.90 235.70C828.32 237.03 828.62 237.32 828.30 238.60C827.98 239.88 827.03 241.75 826.00 243.40C824.97 245.05 823.00 246.80 822.10 248.50C821.20 250.20 821.00 251.98 820.60 253.60C820.20 255.22 819.93 257.35 819.70 258.20C819.47 259.05 819.28 258.62 819.20 258.70L819.20 258.70C819.12 258.62 818.93 259.05 818.70 258.20C818.47 257.35 818.20 255.22 817.80 253.60C817.40 251.98 817.20 250.20 816.30 248.50C815.40 246.80 813.43 245.05 812.40 243.40C811.37 241.75 810.42 239.88 810.10 238.60C809.78 237.32 810.08 237.03 810.50 235.70C810.92 234.37 811.68 232.13 812.60 230.60C813.52 229.07 815.22 227.65 816.00 226.50C816.78 225.35 817.30 224.70 817.30 223.70C817.30 222.70 816.78 221.47 816.00 220.50C815.22 219.53 814.05 218.82 812.60 217.90C811.15 216.98 808.78 215.92 807.30 215.00C805.82 214.08 805.37 213.45 803.70 212.40C802.03 211.35 798.75 209.92 797.30 208.70C795.85 207.48 794.85 206.32 795.00 205.10C795.15 203.88 797.20 202.62 798.20 201.40C799.20 200.18 801.30 198.87 801.00 197.80C800.70 196.73 798.23 195.92 796.40 195.00C794.57 194.08 791.82 193.20 790.00 192.30C788.18 191.40 786.63 190.65 785.50 189.60C784.37 188.55 783.43 187.07 783.20 186.00C782.97 184.93 783.35 184.42 784.10 183.20C784.85 181.98 786.85 179.77 787.70 178.70C788.55 177.63 788.88 177.57 789.20 176.80C789.52 176.03 789.23 175.23 789.60 174.10C789.97 172.97 790.42 171.43 791.40 170.00C792.38 168.57 794.07 167.00 795.50 165.50C796.93 164.00 798.48 162.52 800.00 161.00C801.52 159.48 803.08 157.92 804.60 156.40C806.12 154.88 807.82 153.42 809.10 151.90C810.38 150.38 811.30 148.82 812.30 147.30C813.30 145.78 814.33 144.32 815.10 142.80C815.87 141.28 816.45 139.72 816.90 138.20C817.35 136.68 817.60 135.23 817.80 133.70C818.00 132.17 818.03 130.87 818.10 129.00C818.17 127.13 818.02 123.73 818.20 122.50C818.38 121.27 819.03 121.75 819.20 121.60Z" fill="#F2746C"/>
<path d="M920.90 77.30C921.07 77.42 921.73 72.93 921.90 78.00C922.07 83.07 921.88 102.22 921.90 107.70C921.92 113.18 921.90 109.45 922.00 110.90C922.10 112.35 922.28 114.57 922.50 116.40C922.72 118.23 922.98 120.08 923.30 121.90C923.62 123.72 923.95 125.48 924.40 127.30C924.85 129.12 925.45 130.97 926.00 132.80C926.55 134.63 927.05 136.48 927.70 138.30C928.35 140.12 928.90 141.88 929.90 143.70C930.90 145.52 932.52 147.32 933.70 149.20C934.88 151.08 935.80 153.12 937.00 155.00C938.20 156.88 939.72 158.68 940.90 160.50C942.08 162.32 943.33 164.08 944.10 165.90C944.87 167.72 945.17 169.57 945.50 171.40C945.83 173.23 946.10 175.08 946.10 176.90C946.10 178.72 945.92 180.48 945.50 182.30C945.08 184.12 944.18 185.97 943.60 187.80C943.02 189.63 942.55 191.48 942.00 193.30C941.45 195.12 941.03 196.88 940.30 198.70C939.57 200.52 938.60 202.38 937.60 204.20C936.60 206.02 935.40 207.80 934.30 209.60C933.20 211.40 931.95 213.28 931.00 215.00C930.05 216.72 929.18 217.63 928.60 219.90C928.02 222.17 927.32 225.70 927.50 228.60C927.68 231.50 929.63 234.75 929.70 237.30C929.77 239.85 928.82 241.35 927.90 243.90C926.98 246.45 925.12 249.68 924.20 252.60C923.28 255.52 922.87 258.62 922.40 261.40C921.93 264.18 921.65 267.90 921.40 269.30C921.15 270.70 920.98 269.72 920.90 269.80L920.90 269.80C920.82 269.72 920.65 270.70 920.40 269.30C920.15 267.90 919.87 264.18 919.40 261.40C918.93 258.62 918.52 255.52 917.60 252.60C916.68 249.68 914.82 246.45 913.90 243.90C912.98 241.35 912.03 239.85 912.10 237.30C912.17 234.75 914.12 231.50 914.30 228.60C914.48 225.70 913.78 222.17 913.20 219.90C912.62 217.63 911.75 216.72 910.80 215.00C909.85 213.28 908.60 211.40 907.50 209.60C906.40 207.80 905.20 206.02 904.20 204.20C903.20 202.38 902.23 200.52 901.50 198.70C900.77 196.88 900.35 195.12 899.80 193.30C899.25 191.48 898.78 189.63 898.20 187.80C897.62 185.97 896.72 184.12 896.30 182.30C895.88 180.48 895.70 178.72 895.70 176.90C895.70 175.08 895.97 173.23 896.30 171.40C896.63 169.57 896.93 167.72 897.70 165.90C898.47 164.08 899.72 162.32 900.90 160.50C902.08 158.68 903.60 156.88 904.80 155.00C906.00 153.12 906.92 151.08 908.10 149.20C909.28 147.32 910.90 145.52 911.90 143.70C912.90 141.88 913.45 140.12 914.10 138.30C914.75 136.48 915.25 134.63 915.80 132.80C916.35 130.97 916.95 129.12 917.40 127.30C917.85 125.48 918.18 123.72 918.50 121.90C918.82 120.08 919.08 118.23 919.30 116.40C919.52 114.57 919.70 112.35 919.80 110.90C919.90 109.45 919.88 113.18 919.90 107.70C919.92 102.22 919.73 83.07 919.90 78.00C920.07 72.93 920.73 77.42 920.90 77.30Z" fill="#1FBBC2"/>
<line x1="819.20" y1="140.50" x2="819.20" y2="238.90" stroke="#000" stroke-width="1.65" />
<line x1="817.00" y1="140.50" x2="821.40" y2="140.50" stroke="#000" stroke-width="1.5" />
<line x1="817.00" y1="238.90" x2="821.40" y2="238.90" stroke="#000" stroke-width="1.5" />
<rect x="816.50" y="173.70" width="5.40" height="32.50" fill="#fff" stroke="#000" stroke-width="1.1"/>
<line x1="816.50" y1="186.80" x2="821.90" y2="186.80" stroke="#000" stroke-width="1.5" />
<line x1="920.90" y1="107.70" x2="920.90" y2="238.90" stroke="#000" stroke-width="1.65" />
<line x1="918.70" y1="107.70" x2="923.10" y2="107.70" stroke="#000" stroke-width="1.5" />
<line x1="918.70" y1="238.90" x2="923.10" y2="238.90" stroke="#000" stroke-width="1.5" />
<rect x="918.20" y="162.70" width="5.40" height="43.60" fill="#fff" stroke="#000" stroke-width="1.1"/>
<line x1="918.20" y1="187.10" x2="923.60" y2="187.10" stroke="#000" stroke-width="1.5" />
<line x1="758.30" y1="33.20" x2="758.30" y2="289.00" stroke="#2a2a2a" stroke-width="1.3" />
<line x1="757.70" y1="288.45" x2="982.00" y2="288.45" stroke="#333" stroke-width="1.4" />
<line x1="753.80" y1="77.80" x2="758.30" y2="77.80" stroke="#2a2a2a" stroke-width="1.2" />
<text x="747.30" y="81.20" font-size="11.3" text-anchor="end" font-weight="normal" fill="#222" >30</text>
<line x1="753.80" y1="130.10" x2="758.30" y2="130.10" stroke="#2a2a2a" stroke-width="1.2" />
<text x="747.30" y="133.50" font-size="11.3" text-anchor="end" font-weight="normal" fill="#222" >10</text>
<line x1="753.80" y1="187.10" x2="758.30" y2="187.10" stroke="#2a2a2a" stroke-width="1.2" />
<text x="747.30" y="190.50" font-size="11.3" text-anchor="end" font-weight="normal" fill="#222" >3</text>
<line x1="753.80" y1="239.40" x2="758.30" y2="239.40" stroke="#2a2a2a" stroke-width="1.2" />
<text x="747.30" y="242.80" font-size="11.3" text-anchor="end" font-weight="normal" fill="#222" >1</text>
<line x1="819.20" y1="288.30" x2="819.20" y2="292.60" stroke="#2a2a2a" stroke-width="1.2" />
<line x1="920.90" y1="288.30" x2="920.90" y2="292.60" stroke="#2a2a2a" stroke-width="1.2" />
<text transform="translate(724.90,161.00) rotate(-90)" x="0" y="0" font-size="12" text-anchor="middle" fill="#222">Number of mutations</text>
<text x="819.20" y="307.90" font-size="12" text-anchor="middle" font-weight="normal" fill="#222" >Non–encapsulated</text>
<text x="819.20" y="321.60" font-size="12" text-anchor="middle" font-weight="normal" fill="#222" >(<tspan font-style="italic">n</tspan> = 357/461)</text>
<text x="920.90" y="307.90" font-size="12" text-anchor="middle" font-weight="normal" fill="#222" >Encapsulated</text>
<text x="920.90" y="321.60" font-size="12" text-anchor="middle" font-weight="normal" fill="#222" >(<tspan font-style="italic">n</tspan> =104/461)</text>
<text x="571.80" y="377.60" font-size="12" text-anchor="middle" font-weight="bold" fill="#000" >TMB &gt; 12</text>
<text x="572.90" y="394.80" font-size="12" text-anchor="middle" font-weight="normal" fill="#222" ><tspan font-style="italic">p</tspan> &lt; 0.001</text>
<rect x="500.00" y="492.30" width="50.00" height="9.60" fill="#F2746C"/>
<rect x="598.10" y="466.10" width="50.10" height="35.80" fill="#1FBBC2"/>
<line x1="525.10" y1="487.30" x2="525.10" y2="496.90" stroke="#222" stroke-width="1.5" />
<line x1="520.20" y1="487.30" x2="530.00" y2="487.30" stroke="#222" stroke-width="1.5" />
<line x1="520.20" y1="496.90" x2="530.00" y2="496.90" stroke="#222" stroke-width="1.5" />
<line x1="622.80" y1="447.50" x2="622.80" y2="481.10" stroke="#222" stroke-width="1.5" />
<line x1="617.90" y1="447.50" x2="627.70" y2="447.50" stroke="#222" stroke-width="1.5" />
<line x1="617.90" y1="481.10" x2="627.70" y2="481.10" stroke="#222" stroke-width="1.5" />
<line x1="466.20" y1="386.50" x2="466.20" y2="502.60" stroke="#333" stroke-width="1.3" />
<line x1="465.60" y1="502.00" x2="681.50" y2="502.00" stroke="#5a5a5a" stroke-width="1.7" />
<line x1="461.90" y1="501.90" x2="466.20" y2="501.90" stroke="#333" stroke-width="1.2" />
<text x="455.00" y="505.50" font-size="11.3" text-anchor="end" font-weight="normal" fill="#222" >0%</text>
<line x1="461.90" y1="478.94" x2="466.20" y2="478.94" stroke="#333" stroke-width="1.2" />
<text x="455.00" y="482.54" font-size="11.3" text-anchor="end" font-weight="normal" fill="#222" >10%</text>
<line x1="461.90" y1="455.98" x2="466.20" y2="455.98" stroke="#333" stroke-width="1.2" />
<text x="455.00" y="459.58" font-size="11.3" text-anchor="end" font-weight="normal" fill="#222" >20%</text>
<line x1="461.90" y1="433.02" x2="466.20" y2="433.02" stroke="#333" stroke-width="1.2" />
<text x="455.00" y="436.62" font-size="11.3" text-anchor="end" font-weight="normal" fill="#222" >30%</text>
<line x1="461.90" y1="410.06" x2="466.20" y2="410.06" stroke="#333" stroke-width="1.2" />
<text x="455.00" y="413.66" font-size="11.3" text-anchor="end" font-weight="normal" fill="#222" >40%</text>
<line x1="461.90" y1="387.10" x2="466.20" y2="387.10" stroke="#333" stroke-width="1.2" />
<text x="455.00" y="390.70" font-size="11.3" text-anchor="end" font-weight="normal" fill="#222" >50%</text>
<line x1="525.10" y1="501.90" x2="525.10" y2="506.20" stroke="#333" stroke-width="1.2" />
<text x="525.10" y="520.60" font-size="12" text-anchor="middle" font-weight="normal" fill="#222" >Non–encapsulated</text>
<text x="525.10" y="534.50" font-size="12" text-anchor="middle" font-weight="normal" fill="#222" >(<tspan font-style="italic">n</tspan> = 14/357)</text>
<line x1="622.80" y1="501.90" x2="622.80" y2="506.20" stroke="#333" stroke-width="1.2" />
<text x="622.80" y="520.60" font-size="12" text-anchor="middle" font-weight="normal" fill="#222" >Encapsulated</text>
<text x="622.80" y="534.50" font-size="12" text-anchor="middle" font-weight="normal" fill="#222" >(<tspan font-style="italic">n</tspan> = 16/104)</text>
<text transform="translate(419.60,444.00) rotate(-90)" x="0" y="0" font-size="12" text-anchor="middle" fill="#222">Percentage</text>
<text x="875.80" y="363.70" font-size="12" text-anchor="middle" font-weight="bold" fill="#000" >TMB &gt; 12</text>
<text x="875.40" y="377.60" font-size="12" text-anchor="middle" font-weight="bold" fill="#000" >(No MSI–H &amp; POLE mt)</text>
<text x="875.30" y="393.90" font-size="12" text-anchor="middle" font-weight="normal" fill="#222" ><tspan font-style="italic">p</tspan> &lt; 0.001</text>
<rect x="802.20" y="495.00" width="49.80" height="6.90" fill="#F2746C"/>
<rect x="899.90" y="475.90" width="50.20" height="26.00" fill="#1FBBC2"/>
<line x1="827.10" y1="490.00" x2="827.10" y2="498.90" stroke="#222" stroke-width="1.5" />
<line x1="822.20" y1="490.00" x2="832.00" y2="490.00" stroke="#222" stroke-width="1.5" />
<line x1="822.20" y1="498.90" x2="832.00" y2="498.90" stroke="#222" stroke-width="1.5" />
<line x1="925.20" y1="458.20" x2="925.20" y2="488.50" stroke="#222" stroke-width="1.5" />
<line x1="920.30" y1="458.20" x2="930.10" y2="458.20" stroke="#222" stroke-width="1.5" />
<line x1="920.30" y1="488.50" x2="930.10" y2="488.50" stroke="#222" stroke-width="1.5" />
<line x1="768.50" y1="386.50" x2="768.50" y2="502.60" stroke="#333" stroke-width="1.3" />
<line x1="767.90" y1="502.00" x2="982.00" y2="502.00" stroke="#5a5a5a" stroke-width="1.7" />
<line x1="764.20" y1="501.90" x2="768.50" y2="501.90" stroke="#333" stroke-width="1.2" />
<text x="757.30" y="505.50" font-size="11.3" text-anchor="end" font-weight="normal" fill="#222" >0%</text>
<line x1="764.20" y1="478.94" x2="768.50" y2="478.94" stroke="#333" stroke-width="1.2" />
<text x="757.30" y="482.54" font-size="11.3" text-anchor="end" font-weight="normal" fill="#222" >10%</text>
<line x1="764.20" y1="455.98" x2="768.50" y2="455.98" stroke="#333" stroke-width="1.2" />
<text x="757.30" y="459.58" font-size="11.3" text-anchor="end" font-weight="normal" fill="#222" >20%</text>
<line x1="764.20" y1="433.02" x2="768.50" y2="433.02" stroke="#333" stroke-width="1.2" />
<text x="757.30" y="436.62" font-size="11.3" text-anchor="end" font-weight="normal" fill="#222" >30%</text>
<line x1="764.20" y1="410.06" x2="768.50" y2="410.06" stroke="#333" stroke-width="1.2" />
<text x="757.30" y="413.66" font-size="11.3" text-anchor="end" font-weight="normal" fill="#222" >40%</text>
<line x1="764.20" y1="387.10" x2="768.50" y2="387.10" stroke="#333" stroke-width="1.2" />
<text x="757.30" y="390.70" font-size="11.3" text-anchor="end" font-weight="normal" fill="#222" >50%</text>
<line x1="827.10" y1="501.90" x2="827.10" y2="506.20" stroke="#333" stroke-width="1.2" />
<text x="827.10" y="520.60" font-size="12" text-anchor="middle" font-weight="normal" fill="#222" >Non–encapsulated</text>
<text x="827.10" y="534.50" font-size="12" text-anchor="middle" font-weight="normal" fill="#222" >(<tspan font-style="italic">n</tspan> = 10/353)</text>
<line x1="925.20" y1="501.90" x2="925.20" y2="506.20" stroke="#333" stroke-width="1.2" />
<text x="925.20" y="520.60" font-size="12" text-anchor="middle" font-weight="normal" fill="#222" >Encapsulated</text>
<text x="925.20" y="534.50" font-size="12" text-anchor="middle" font-weight="normal" fill="#222" >(<tspan font-style="italic">n</tspan> = 11/99)</text>
<text transform="translate(722.80,444.00) rotate(-90)" x="0" y="0" font-size="12" text-anchor="middle" fill="#222">Percentage</text>
</svg>
</body></html>
